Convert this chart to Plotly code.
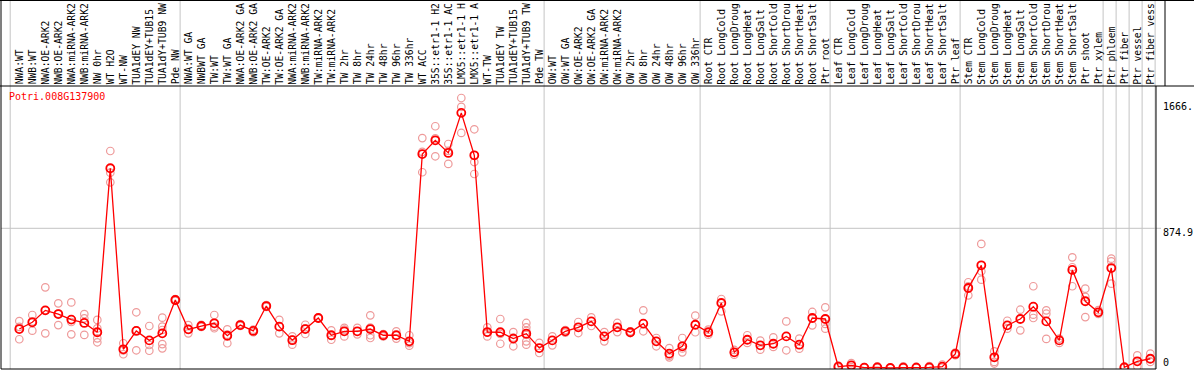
import plotly.graph_objects as go

# ---------------- data ----------------
gene_id = "Potri.008G137900"

# sample labels as displayed (the chart shows at most 14 characters)
sample_labels = [
    "NWA:WT", "NWB:WT", "NWA:OE-ARK2", "NWB:OE-ARK2", "NWA:miRNA-ARK2", "NWB:miRNA-ARK2",
    "NW 0hr", "WT H2O", "WT-NW", "TUA1dEY NW", "TUA1dEY+TUB15", "TUA1dY+TUB9 NW", "Pde NW",
    "NWA:WT GA", "NWBWT GA", "TW:WT", "TW:WT GA", "NWA:OE-ARK2 GA", "NWB:OE-ARK2 GA",
    "TW:OE-ARK2", "TW:OE-ARK2 GA", "NWA:miRNA-ARK2", "NWB:miRNA-ARK2", "TW:miRNA-ARK2",
    "TW:miRNA-ARK2", "TW 2hr", "TW 8hr", "TW 24hr", "TW 48hr", "TW 96hr", "TW 336hr",
    "WT ACC", "35S::etr1-1 H2", "35S::etr1-1 AC", "LMX5::etr1-1 H", "LMX5::etr1-1 A",
    "WT-TW", "TUA1dEY TW", "TUA1dEY+TUB15", "TUA1dY+TUB9 TW", "Pde TW",
    "OW:WT", "OW:WT GA", "OW:OE-ARK2", "OW:OE-ARK2 GA", "OW:miRNA-ARK2", "OW:miRNA-ARK2",
    "OW 2hr", "OW 8hr", "OW 24hr", "OW 48hr", "OW 96hr", "OW 336hr",
    "Root CTR", "Root LongCold", "Root LongDroug", "Root LongHeat", "Root LongSalt",
    "Root ShortCold", "Root ShortDrou", "Root ShortHeat", "Root ShortSalt", "Ptr root",
    "Leaf CTR", "Leaf LongCold", "Leaf LongDroug", "Leaf LongHeat", "Leaf LongSalt",
    "Leaf ShortCold", "Leaf ShortDrou", "Leaf ShortHeat", "Leaf ShortSalt", "Ptr leaf",
    "Stem CTR", "Stem LongCold", "Stem LongDroug", "Stem LongHeat", "Stem LongSalt",
    "Stem ShortCold", "Stem ShortDrou", "Stem ShortHeat", "Stem ShortSalt", "Ptr shoot",
    "Ptr xylem", "Ptr phloem", "Ptr fiber", "Ptr vessel", "Ptr fiber vess",
]

mean_values = [
    244, 286, 361, 338, 303, 282, 224, 1251, 117, 232,
    173, 217, 426, 242, 263, 280, 202, 269, 232, 388,
    259, 174, 244, 313, 205, 230, 230, 244, 205, 205,
    167, 1340, 1426, 1347, 1598, 1332, 225, 224, 184, 215,
    125, 173, 230, 255, 292, 198, 255, 224, 278, 167,
    90, 136, 271, 224, 407, 98, 177, 142, 152, 198,
    146, 313, 307, 8, 17, 2, 4, 0, 2, 2,
    4, 8, 88, 501, 643, 67, 267, 307, 384, 292,
    173, 614, 418, 349, 626, 4, 42, 58,
]

replicate_values = [
    [294, 180, 258], [332, 234, 292], [505, 217, 361], [405, 269, 340], [411, 211, 288],
    [338, 311, 207], [301, 186, 161, 248], [1359, 1223, 1163], [155, 86, 110], [349, 111, 236],
    [263, 144, 108], [315, 259, 238, 123, 150], [426, 420, 432], [269, 217, 240], [270, 258, 261],
    [332, 249, 259], [242, 155, 209], [275, 263], [240, 224], [394, 382],
    [301, 217], [198, 146, 178], [271, 213, 248], [316, 310], [236, 177, 202],
    [251, 198, 241], [251, 211], [330, 205, 188, 253], [212, 198], [230, 184],
    [205, 140, 156], [1440, 1226, 1354], [1514, 1326, 1438], [1403, 1278, 1360], [1691, 1635, 1472],
    [1495, 1290, 1215], [255, 198, 222], [307, 152, 213], [225, 136, 191], [282, 255, 232, 167, 146, 208],
    [157, 94], [198, 142], [238, 222], [288, 219], [317, 263],
    [225, 167], [282, 225], [230, 219], [361, 230], [188, 136],
    [125, 67, 78], [188, 98, 122], [328, 224], [240, 209], [432, 355],
    [83, 113], [205, 157], [171, 115], [192, 132], [292, 111],
    [184, 121], [351, 267], [380, 276, 246], [15, 3], [31, 6],
    [0, 5], [10, 0], [0, 1], [10, 0], [8, 0],
    [12, 0], [21, 2], [96, 80], [537, 455, 511], [777, 606, 553],
    [104, 38, 28], [296, 246], [365, 236], [512, 334, 313], [361, 340, 182],
    [184, 157], [693, 631, 512], [497, 445, 319], [362, 339], [685, 668, 528],
    [10, 0], [79, 10], [90, 38],
]

# first index of each sample group (group separators)
group_starts = [0, 13, 41, 53, 63, 73, 84, 85, 86, 87, 88]

ytick_values = [0, 874.9, 1666.0]
ytick_labels = ["0", "874.9", "1666."]

# ---------------- figure ----------------
FONT = "DejaVu Sans Mono"
RED = "#ff0000"
PINK = "#ee9a9a"
GRAY = "#c4c4c4"

xs = list(range(len(mean_values)))
rx, ry = [], []
for i, reps in enumerate(replicate_values):
    for v in reps:
        rx.append(i)
        ry.append(v)

fig = go.Figure()
fig.add_trace(go.Scatter(
    x=rx, y=ry, mode="markers",
    marker=dict(symbol="circle-open", size=7.5, color=PINK, line=dict(width=1.2, color=PINK)),
    hoverinfo="skip", showlegend=False,
))
fig.add_trace(go.Scatter(
    x=xs, y=mean_values, mode="lines+markers",
    line=dict(color=RED, width=1.3),
    marker=dict(symbol="circle-open", size=8, color=RED, line=dict(width=1.8, color=RED)),
    text=sample_labels, showlegend=False,
))

W, H = 1194, 370
ML, MR, MT, MB = 1, 38, 86, 1
plot_w = W - ML - MR
plot_h = H - MT - MB


def py_to_paper(py):
    return (H - MB - py) / plot_h


def px_to_paper(px):
    return (px - ML) / plot_w


shapes = []
# group separators, through header and plot
for k in group_starts:
    pos = -0.7 if k == 0 else k - 0.63
    shapes.append(dict(type="line", xref="x", yref="paper", x0=pos, x1=pos,
                       y0=0, y1=py_to_paper(0), line=dict(color=GRAY, width=1), layer="below"))
# horizontal grid line
shapes.append(dict(type="line", xref="paper", yref="y", x0=0, x1=px_to_paper(1161),
                   y0=ytick_values[1], y1=ytick_values[1], line=dict(color=GRAY, width=1), layer="below"))
# black frame lines
blk = dict(color="black", width=1)
shapes += [
    dict(type="line", xref="paper", yref="paper", x0=px_to_paper(0), x1=px_to_paper(W),
         y0=py_to_paper(0.5), y1=py_to_paper(0.5), line=blk),
    dict(type="line", xref="paper", yref="paper", x0=px_to_paper(0), x1=px_to_paper(W),
         y0=1, y1=1, line=blk),
    dict(type="line", xref="paper", yref="paper", x0=0, x1=0,
         y0=0, y1=py_to_paper(0), line=blk),
    dict(type="line", xref="paper", yref="paper", x0=0, x1=1,
         y0=0, y1=0, line=blk),
    dict(type="line", xref="paper", yref="paper", x0=1, x1=1,
         y0=0, y1=1, line=blk),
    dict(type="line", xref="paper", yref="paper", x0=px_to_paper(1165), x1=px_to_paper(1165),
         y0=1, y1=py_to_paper(0), line=blk),
]

annotations = []
for i, lab in enumerate(sample_labels):
    annotations.append(dict(
        x=i, xref="x", y=py_to_paper(85.5), yref="paper", text=lab, textangle=-90,
        xanchor="center", yanchor="bottom", showarrow=False,
        font=dict(family=FONT, size=9.7, color="black"), borderpad=0,
    ))
annotations.append(dict(
    x=px_to_paper(8), xref="paper", y=py_to_paper(96.7), yref="paper", text=gene_id,
    xanchor="left", yanchor="middle", showarrow=False, borderpad=0,
    font=dict(family=FONT, size=10, color=RED),
))
for v, lab in zip(ytick_values, ytick_labels):
    shift = 5.5 if v == 0 else -4.3
    annotations.append(dict(
        x=px_to_paper(1162), xref="paper", y=v, yref="y", text=lab,
        xanchor="left", yanchor="middle", yshift=shift, showarrow=False, borderpad=0,
        font=dict(family=FONT, size=10, color="black"),
    ))

# axis ranges: index i at pixel 19.3 + 13*i ; value 0 at pixel 368, 0.15967 px per unit
x_lo = (ML - 19.3) / 13
x_hi = (ML + plot_w - 19.3) / 13
scale = 0.15967
y_lo = (368 - (H - MB)) / scale
y_hi = (368 - MT) / scale

fig.update_layout(
    width=W, height=H,
    margin=dict(l=ML, r=MR, t=MT, b=MB, pad=0),
    paper_bgcolor="white", plot_bgcolor="white",
    xaxis=dict(range=[x_lo, x_hi], visible=False, showgrid=False, zeroline=False),
    yaxis=dict(range=[y_lo, y_hi], visible=False, showgrid=False, zeroline=False),
    shapes=shapes, annotations=annotations,
    showlegend=False,
)

fig.write_html(
    "out.html",
    config={"displayModeBar": False},
    post_script="document.body.style.margin='0';document.body.style.overflow='hidden';",
)
